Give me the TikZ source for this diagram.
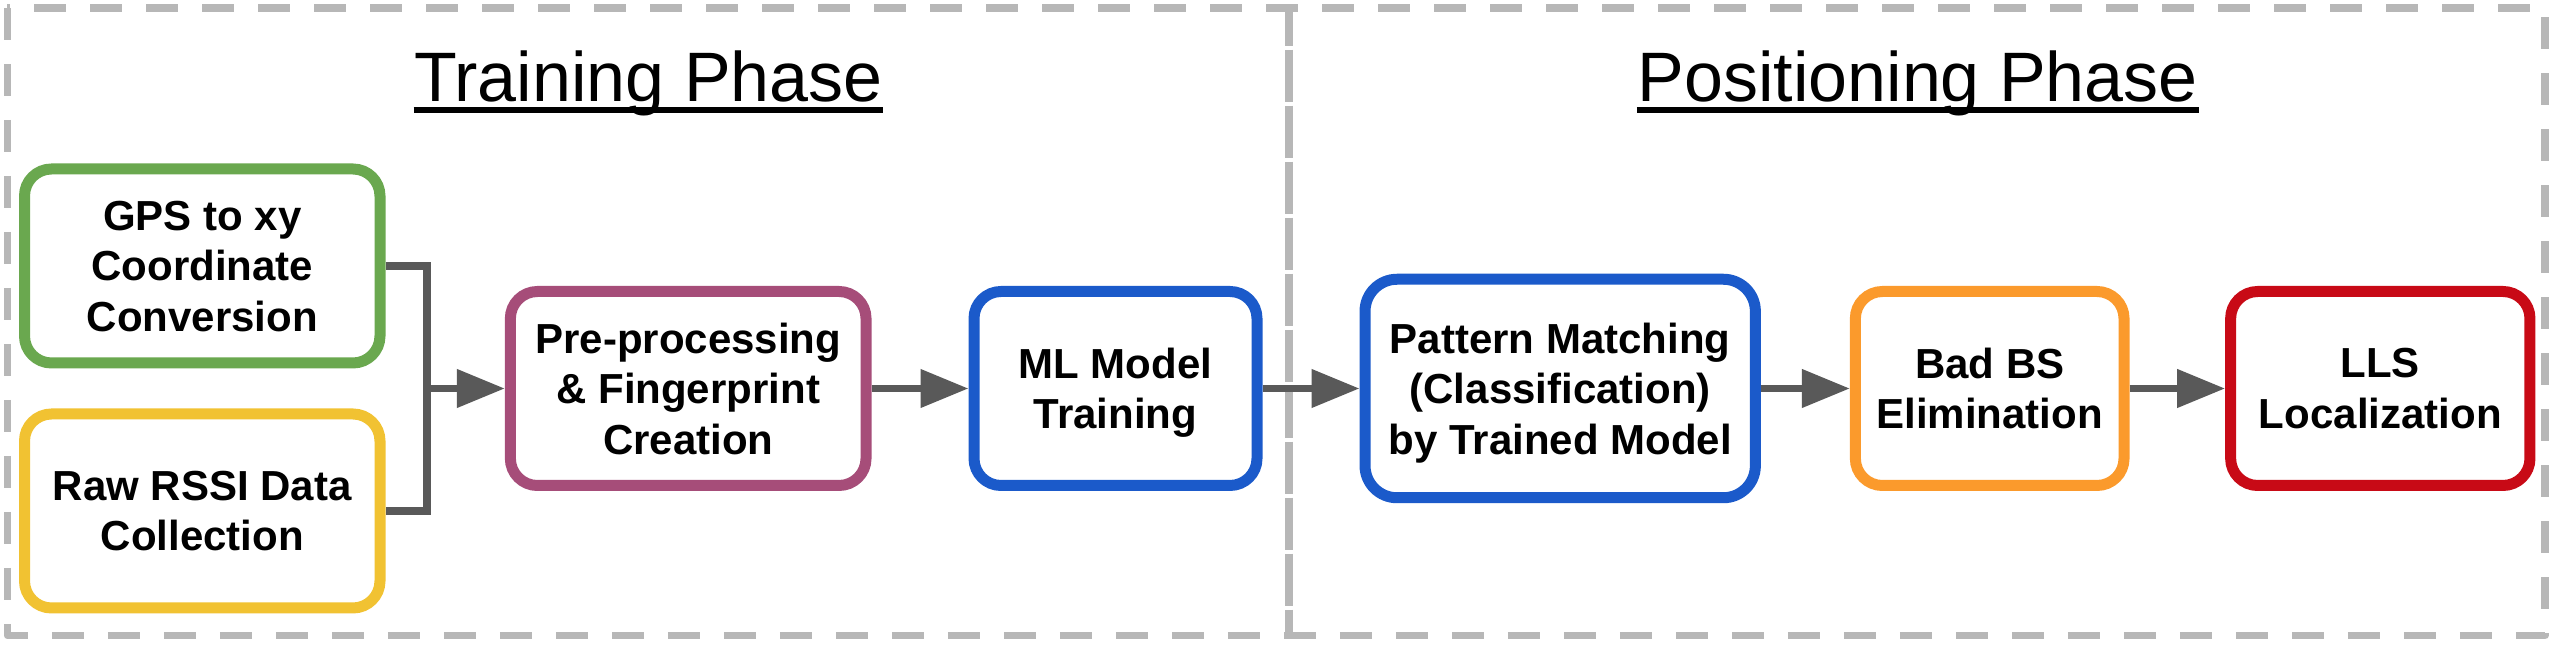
\documentclass[tikz,border=0pt]{standalone}
\usepackage{fontspec}
\setmainfont{Liberation Sans}
\usetikzlibrary{arrows.meta}
\definecolor{cgreen}{HTML}{6AA84F}
\definecolor{cyellow}{HTML}{F1C232}
\definecolor{cpurple}{HTML}{A64D79}
\definecolor{cblue}{HTML}{1B5ACA}
\definecolor{corange}{HTML}{FB9A2C}
\definecolor{cred}{HTML}{C80A16}
\definecolor{cborder}{HTML}{B7B7B7}
\definecolor{carrow}{HTML}{595959}
\begin{document}
\begin{tikzpicture}[x=0.3pt,y=-0.3pt,
  box/.style={draw, line width=3.3pt, rounded corners=8.1pt, fill=white,
    align=center, inner sep=0pt, minimum height=58.2pt,
    font=\fontsize{12.6pt}{15.15pt}\selectfont\bfseries, text depth=0pt},
  panel/.style={draw=cborder, line width=2.25pt, line join=round,
    dash pattern=on 9.6pt off 7.2pt},
  divider/.style={draw=cborder, line width=2.25pt,
    dash pattern=on 15.6pt off 1.2pt, dash phase=4.23pt},
  phasetitle/.style={anchor=base, inner sep=0pt,
    font=\fontsize{21pt}{25pt}\selectfont},
  uline/.style={draw=black, line width=1.74pt},
  conn/.style={draw=carrow, line width=2.25pt},
  arr/.style={conn, -{Triangle[length=14.4pt,width=11.1pt]}}
]
\useasboundingbox (0,0) rectangle (2552,650);

% panels
\draw[panel] (7.5,7.8) rectangle (2545,635.5);
\draw[divider] (1289,7.8) -- (1289,635.5);

% titles
\node[phasetitle] (t1) at (648.5,101.5) {Training Phase};
\node[phasetitle] (t2) at (1917.7,101.5) {Positioning Phase};
\draw[uline] ([yshift=-2.46pt]t1.base west) -- ([yshift=-2.46pt]t1.base east);
\draw[uline] ([yshift=-2.46pt]t2.base west) -- ([yshift=-2.46pt]t2.base east);

% boxes
\node[box, draw=cgreen, minimum width=106.65pt] (gps) at (202.25,266) {GPS to xy\\Coordinate\\Conversion};
\node[box, draw=cyellow, minimum width=106.65pt] (rssi) at (202.25,511) {Raw RSSI Data\\Collection};
\node[box, draw=cpurple, minimum width=106.7pt] (pre) at (688.2,388.5) {Pre-processing\\\& Fingerprint\\Creation};
\node[box, draw=cblue, minimum width=84.9pt] (ml) at (1115.5,388.5) {ML Model\\Training};
\node[box, draw=cblue, minimum width=117.1pt, minimum height=65.55pt, rounded corners=9.6pt] (pat) at (1560.2,388.5) {Pattern Matching\\(Classification)\\by Trained Model};
\node[box, draw=corange, minimum width=80.6pt] (bad) at (1989.7,388.5) {Bad BS\\Elimination};
\node[box, draw=cred, minimum width=89.8pt] (lls) at (2380.3,388.5) {LLS\\Localization};

% connectors
\coordinate (join) at (427,388.5);
\draw[conn] (gps.east) -| (join) |- (rssi.east);
\draw[arr] (join) -- (pre.west);
\draw[arr] (pre.east) -- (ml.west);
\draw[arr] (ml.east) -- (pat.west);
\draw[arr] (pat.east) -- (bad.west);
\draw[arr] (bad.east) -- (lls.west);
\end{tikzpicture}
\end{document}
